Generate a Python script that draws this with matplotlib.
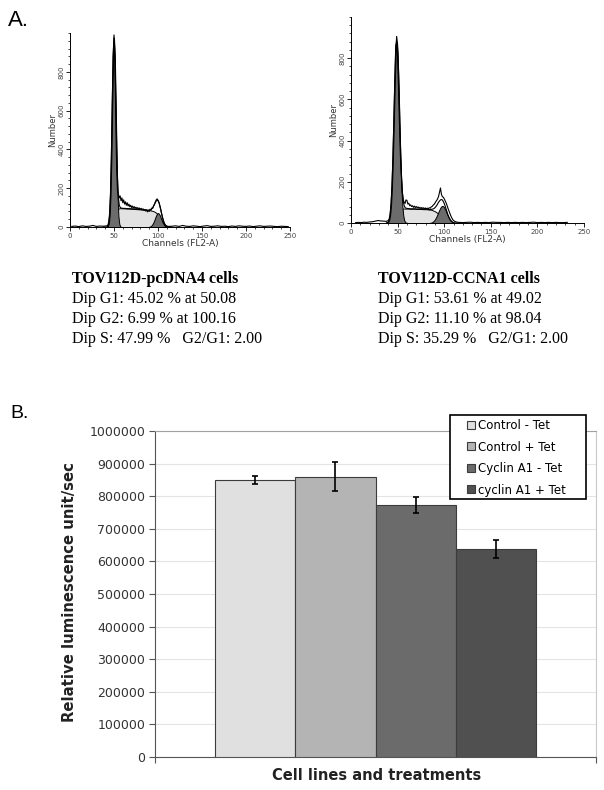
import matplotlib.pyplot as plt
import numpy as np
from matplotlib.ticker import MultipleLocator
from matplotlib.patches import Rectangle

# ---------- panel A: cell cycle histograms ----------
# model channels shared by the fitted components
ch = np.arange(38, 116)

# TOV112D-pcDNA4 (left)
g1_left = [0, 0, 0, 0, 1, 4, 16, 57, 159, 351, 620, 871,
           975, 871, 620, 351, 159, 57, 16, 4, 1, 0] + [0] * 56
g2_left = [0] * 52 + [1, 3, 5, 10, 17, 26, 37, 50, 61, 69, 72, 69, 61,
                      50, 37, 26, 17, 10, 5, 3, 1] + [0] * 5
s_left = ([0] * 10 + [0, 5, 15, 35, 60, 80, 90, 95, 96, 97]
          + [97, 97, 96, 96, 96, 96, 95, 95, 95, 95, 94, 94]
          + [94, 94, 93, 93, 93, 92, 92, 92, 91, 91]
          + [91, 90, 90, 90, 89, 89, 88, 88, 87, 87]
          + [86, 86, 85, 84, 83, 81, 79, 76, 73, 69]
          + [64, 58, 51, 43, 35, 27, 19, 12, 7, 3]
          + [1, 0, 0, 0, 0, 0])

raw_ch_left = ([2, 6, 10, 14, 18, 22, 26, 30, 34, 38, 42]
               + list(range(43, 113))
               + list(range(116, 249, 4)))
raw_left = ([3, 5, 2, 6, 3, 4, 8, 3, 5, 4, 6]
            + [10, 25, 70, 170, 360, 640, 880, 975, 840, 560, 300, 185,
               170, 150, 160, 135, 150, 125, 140, 118, 130, 112, 125, 108,
               118, 104, 112, 100, 108, 98, 105, 96, 102, 94, 100, 92, 98,
               90, 96, 88, 94, 86, 90, 82, 88, 78, 86, 80, 92, 86, 98, 96,
               110, 118, 130, 140, 145, 138, 128, 110, 92, 70, 50, 32, 20,
               12, 8, 5, 4, 3]
            + [4, 6, 3, 8, 4, 3, 6, 4, 2, 5, 7, 3, 4, 6, 3, 4, 2, 5, 3, 6,
               4, 3, 5, 2, 4, 6, 3, 4, 5, 3, 2, 4, 3, 2])

# TOV112D-CCNA1 (right)
g1_right = [1, 2, 5, 15, 39, 89, 179, 317, 496, 682, 825, 880, 825, 682,
            496, 317, 179, 89, 39, 15, 5, 2, 1] + [0] * 55
g2_right = [0] * 47 + [1, 2, 4, 7, 11, 17, 25, 34, 45, 56, 66, 75, 81, 83,
                       81, 75, 66, 56, 45, 34, 25, 17, 11, 7, 4, 2, 1] + [0] * 4
s_right = ([0] * 8 + [2, 6, 14, 26, 40, 52, 61, 66, 69, 70]
           + [70, 70, 70, 70, 70, 70, 70, 69, 69, 69]
           + [69, 69, 69, 69, 68, 68, 68, 68, 68, 68]
           + [68, 67, 67, 67, 67, 67, 66, 66, 65, 65]
           + [64, 63, 61, 59, 57, 54, 51, 48, 45, 41]
           + [37, 33, 29, 24, 20, 16, 12, 9, 6, 4]
           + [3, 2, 1, 0, 0, 0, 0, 0, 0, 0])

raw_ch_right = ([5, 8, 11, 14, 17, 20, 23, 26, 29, 32, 35]
                + list(range(38, 116))
                + list(range(116, 236, 4)))
raw_right = ([2, 3, 2, 4, 3, 5, 6, 9, 12, 10, 9]
             + [8, 10, 12, 20, 45, 95, 185, 320, 500, 690, 860, 880, 800,
                650, 480, 330, 230, 150, 115, 100, 95, 112, 110, 92, 96, 84,
                88, 80, 84, 76, 82, 75, 80, 74, 78, 72, 76, 70, 75, 70, 74,
                68, 73, 69, 72, 70, 74, 72, 78, 80, 86, 90, 96, 104, 110,
                118, 130, 150, 170, 140, 128, 125, 118, 108, 98, 86, 72, 60,
                48, 36, 26, 18, 12, 9, 7, 5, 4, 3]
             + [3, 2, 3, 4, 2, 3, 2, 3, 2, 4, 3, 3, 2, 3, 2, 3, 2, 3, 2, 3,
                4, 2, 3, 2, 3, 2, 3, 2, 2, 3])

text_left = ["TOV112D-pcDNA4 cells",
             "Dip G1: 45.02 % at 50.08",
             "Dip G2: 6.99 % at 100.16",
             "Dip S: 47.99 %   G2/G1: 2.00"]
text_right = ["TOV112D-CCNA1 cells",
              "Dip G1: 53.61 % at 49.02",
              "Dip G2: 11.10 % at 98.04",
              "Dip S: 35.29 %   G2/G1: 2.00"]

# ---------- panel B: luminescence bars ----------
groups = ["Control - Tet", "Control + Tet", "Cyclin A1 - Tet", "cyclin A1 + Tet"]
lum = [850000, 860000, 772000, 638000]
lum_err = [12000, 44000, 25000, 28000]
bar_colors = ["#e0e0e0", "#b4b4b4", "#6b6b6b", "#505050"]

fig = plt.figure(figsize=(6.04, 7.9), dpi=100)
W, H = 604.0, 790.0


def hist_panel(rect, g1, g2, s, rch, raw):
    ax = fig.add_axes(rect)
    g1 = np.array(g1)
    g2 = np.array(g2)
    s = np.array(s)
    ax.fill_between(ch, s, color="#e2e2e2", edgecolor="black", lw=0.7, zorder=1)
    ax.fill_between(ch, g1, color="#6c6c6c", edgecolor="black", lw=0.7, zorder=2)
    ax.fill_between(ch, g2, color="#6c6c6c", edgecolor="black", lw=0.7, zorder=2)
    ax.plot(ch, g1 + g2 + s, color="black", lw=0.8, zorder=3)
    ax.plot(rch, raw, color="black", lw=0.8, zorder=4)
    ax.set_xlim(0, 250)
    ax.set_ylim(0, 1000)
    ax.spines["top"].set_visible(False)
    ax.spines["right"].set_visible(False)
    for sp in ("left", "bottom"):
        ax.spines[sp].set_linewidth(0.7)
    ax.set_xticks(range(0, 251, 50))
    ax.set_yticks(range(0, 801, 200))
    ax.xaxis.set_minor_locator(MultipleLocator(10))
    ax.yaxis.set_minor_locator(MultipleLocator(40))
    ax.tick_params(which="major", length=3, width=0.6, labelsize=5,
                   labelcolor="#444444", pad=1)
    ax.tick_params(which="minor", length=1.5, width=0.5)
    for lab in ax.get_yticklabels():
        lab.set_rotation(90)
        lab.set_va("center")
    ax.set_xlabel("Channels (FL2-A)", fontsize=6.5, color="#333333", labelpad=0)
    ax.set_ylabel("Number", fontsize=6, color="#333333", labelpad=1)
    return ax


hist_panel([70 / W, 1 - 227 / H, 220 / W, 194 / H],
           g1_left, g2_left, s_left, raw_ch_left, raw_left)
hist_panel([351 / W, 1 - 223 / H, 233 / W, 206 / H],
           g1_right, g2_right, s_right, raw_ch_right, raw_right)

fig.text(8 / W, 1 - 26 / H, "A.", fontsize=16, family="Liberation Sans")
fig.text(10 / W, 1 - 418 / H, "B.", fontsize=14, family="Liberation Sans")

for i in range(4):
    y = 1 - (283 + 20 * i) / H
    w = "bold" if i == 0 else "normal"
    fig.text(72 / W, y, text_left[i], fontsize=11.5, family="Liberation Serif",
             weight=w, va="baseline")
    fig.text(378 / W, y, text_right[i], fontsize=11.5, family="Liberation Serif",
             weight=w, va="baseline")

ax = fig.add_axes([155 / W, 1 - 757 / H, 441 / W, 326 / H])
x = np.arange(len(groups))
bars = ax.bar(x, lum, width=1.0, color=bar_colors, edgecolor="#3c3c3c", lw=0.8,
              yerr=lum_err, zorder=3,
              error_kw=dict(ecolor="black", elinewidth=1.2, capsize=2.5, capthick=1.2))
ax.set_xlim(-1.24, 4.24)
ax.set_ylim(0, 1000000)
ax.set_yticks(range(0, 1000001, 100000))
ax.set_yticklabels([str(v) for v in range(0, 1000001, 100000)])
ax.set_xticks([-1.24, 4.24])
ax.set_xticklabels(["", ""])
ax.grid(axis="y", color="#e4e4e4", lw=0.8, zorder=0)
ax.spines["left"].set_color("#555555")
ax.spines["bottom"].set_color("#555555")
ax.spines["top"].set_color("#a0a0a0")
ax.spines["right"].set_color("#c8c8c8")
ax.tick_params(axis="y", length=4, color="#555555", labelsize=9,
               labelcolor="#333333", pad=3)
ax.tick_params(axis="x", length=4, color="#555555")

# legend frame drawn by hand so the side padding matches the original
ax.add_patch(Rectangle((450 / W, 1 - 499 / H), 136 / W, 84 / H,
                       transform=fig.transFigure, facecolor="white",
                       edgecolor="black", lw=1.2, zorder=5, clip_on=False))
leg = ax.legend(list(bars.patches), groups, loc="upper left",
                bbox_to_anchor=(467 / W, 1 - 419 / H), bbox_transform=fig.transFigure,
                fontsize=8.5, frameon=False,
                handlelength=0.65, handleheight=0.65, handletextpad=0.3,
                labelspacing=0.72, borderpad=0, borderaxespad=0)
leg.set_zorder(6)

fig.text(70 / W, 1 - 592 / H, "Relative luminescence unit/sec", rotation=90,
         fontsize=10.7, weight="bold", ha="center", va="center", color="#222222")
fig.text(377 / W, 1 - 776 / H, "Cell lines and treatments", fontsize=10.5,
         weight="bold", ha="center", va="center", color="#222222")

fig.savefig("out.png", dpi=100)
